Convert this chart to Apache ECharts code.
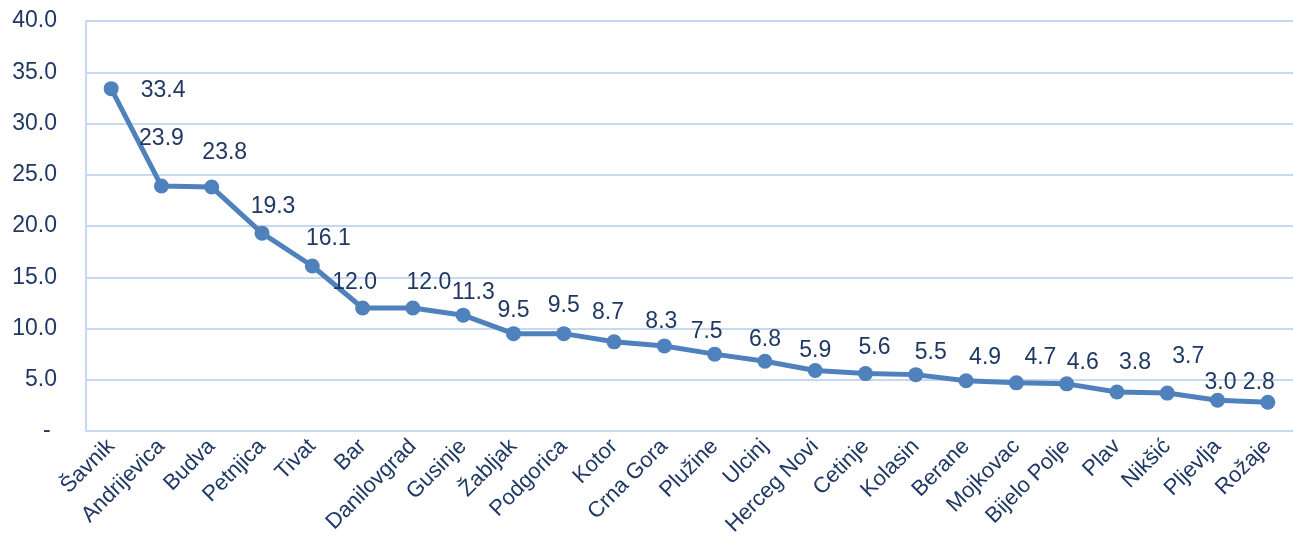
<!DOCTYPE html>
<html>
<head>
<meta charset="utf-8">
<script src="https://cdn.jsdelivr.net/npm/echarts@6/dist/echarts.min.js"></script>
<style>
html,body{margin:0;padding:0;background:#fff;}
#chart{width:1293px;height:552px;}
</style>
</head>
<body>
<div id="chart"></div>
<script>
const categories = ["Šavnik","Andrijevica","Budva","Petnjica","Tivat","Bar","Danilovgrad","Gusinje","Žabljak","Podgorica","Kotor","Crna Gora","Plužine","Ulcinj","Herceg Novi","Cetinje","Kolasin","Berane","Mojkovac","Bijelo Polje","Plav","Nikšić","Pljevlja","Rožaje"];
const values = [33.4,23.9,23.8,19.3,16.1,12.0,12.0,11.3,9.5,9.5,8.7,8.3,7.5,6.8,5.9,5.6,5.5,4.9,4.7,4.6,3.8,3.7,3.0,2.8];
const yTicks = [0,5,10,15,20,25,30,35,40];

// label placement (style only)
const labelOffsets = [[52,2],[0,-47],[13,-34],[11,-27],[16,-27],[-8,-25],[16,-25],[10,-23],[0,-23],[0,-28],[-6,-29],[-3,-24],[-8,-22],[0,-22],[0,-20],[9,-26],[15,-22],[19,-23],[24,-25],[16,-21],[18,-29],[21,-36],[3,-18],[-9,-20]];

const textColor = '#1f3864';
const gridColor = '#c6d9f0';
const font = 'Liberation Sans, Arial, sans-serif';

const chart = echarts.init(document.getElementById('chart'));
chart.setOption({
  backgroundColor: '#fff',
  animation: false,
  grid: {left: 86, top: 21, width: 1216, bottom: 121, containLabel: false},
  xAxis: {
    type: 'category',
    data: categories,
    boundaryGap: true,
    axisLine: {show: true, lineStyle: {color: gridColor, width: 2}},
    axisTick: {show: false},
    axisLabel: {rotate: 45, interval: 0, margin: 12, fontSize: 22, color: textColor, fontFamily: font}
  },
  yAxis: {
    type: 'value',
    min: yTicks[0],
    max: yTicks[yTicks.length-1],
    interval: 5,
    axisLine: {show: true, lineStyle: {color: gridColor, width: 2}},
    axisTick: {show: false},
    splitLine: {show: true, lineStyle: {color: gridColor, width: 2}},
    axisLabel: {
      margin: 29, fontSize: 23, color: textColor, fontFamily: font,
      formatter: v => v === 0 ? '- ' : v.toFixed(1)
    }
  },
  series: [{
    type: 'line',
    data: values.map((v, i) => ({
      value: v,
      label: {offset: labelOffsets[i]}
    })),
    lineStyle: {color: '#4f81bd', width: 5},
    itemStyle: {color: '#4f81bd'},
    symbol: 'circle',
    symbolSize: 15,
    label: {
      show: true,
      position: 'inside',
      fontSize: 23,
      color: textColor,
      fontFamily: font,
      formatter: p => p.value.toFixed(1)
    }
  }]
});
</script>
</body>
</html>
